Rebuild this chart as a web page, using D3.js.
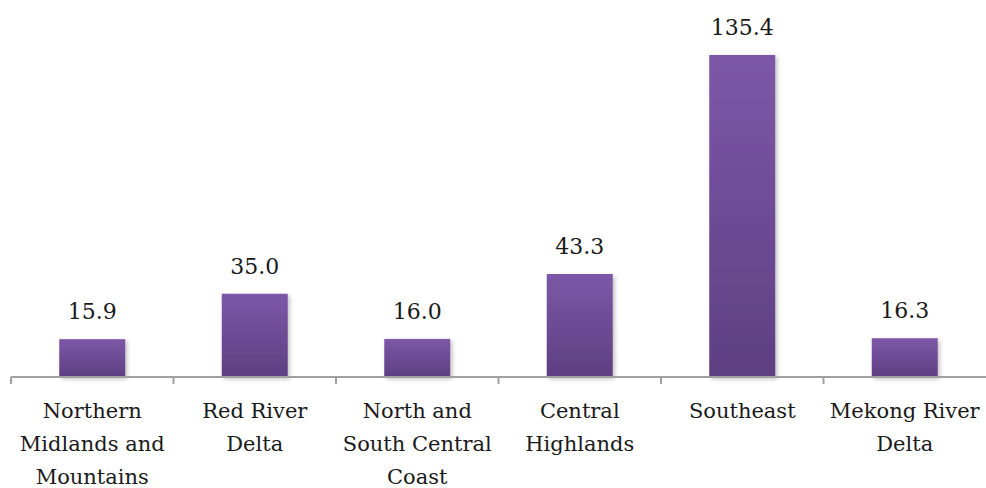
<!DOCTYPE html>
<html>
<head>
<meta charset="utf-8">
<script src="https://cdn.jsdelivr.net/npm/d3@7"></script>
<style>
  html, body { margin: 0; padding: 0; background: #fff; }
  svg { display: block; }
</style>
</head>
<body>
<svg id="chart" width="986" height="488"></svg>
<script>
const categories = [
  ["Northern", "Midlands and", "Mountains"],
  ["Red River", "Delta"],
  ["North and", "South Central", "Coast"],
  ["Central", "Highlands"],
  ["Southeast"],
  ["Mekong River", "Delta"]
];
const categoryKeys = ["Northern Midlands and Mountains", "Red River Delta", "North and South Central Coast", "Central Highlands", "Southeast", "Mekong River Delta"];
const values = [15.9, 35.0, 16.0, 43.3, 135.4, 16.3];
const valueLabels = ["15.9", "35.0", "16.0", "43.3", "135.4", "16.3"];

const FONT = "'DejaVu Serif', 'Liberation Serif', serif";
const svg = d3.select("#chart");
const left = 11, right = 986, axisY = 377;

const x = d3.scaleBand().domain(categoryKeys).range([left, right]).padding(0);
const y = d3.scaleLinear().domain([0, 140]).range([axisY, 44]);
const barW = x.bandwidth() * 0.406;

const defs = svg.append("defs");
const grad = defs.append("linearGradient").attr("id", "barGrad")
  .attr("x1", 0).attr("y1", 0).attr("x2", 0).attr("y2", 1);
grad.append("stop").attr("offset", "0%").attr("stop-color", "#7D57A8");
grad.append("stop").attr("offset", "100%").attr("stop-color", "#5E3F81");
const f = defs.append("filter").attr("id", "shadow")
  .attr("x", "-20%").attr("y", "-10%").attr("width", "140%").attr("height", "130%");
f.append("feDropShadow").attr("dx", 2).attr("dy", 2).attr("stdDeviation", 2)
  .attr("flood-color", "#000").attr("flood-opacity", 0.25);

svg.append("g").selectAll("rect").data(values).join("rect")
  .attr("x", (d, i) => x(categoryKeys[i]) + (x.bandwidth() - barW) / 2)
  .attr("y", d => y(d))
  .attr("width", barW)
  .attr("height", d => y(0) - y(d))
  .attr("fill", "url(#barGrad)")
  .attr("filter", "url(#shadow)");

const axisG = svg.append("g");
axisG.append("line")
  .attr("x1", left).attr("x2", right)
  .attr("y1", axisY).attr("y2", axisY)
  .attr("stroke", "#A0A0A0").attr("stroke-width", 2);
const tickPos = categoryKeys.map(k => x(k));
axisG.selectAll("line.tick").data(tickPos).join("line")
  .attr("class", "tick")
  .attr("x1", d => d).attr("x2", d => d)
  .attr("y1", axisY).attr("y2", axisY + 7)
  .attr("stroke", "#A0A0A0").attr("stroke-width", 2);

svg.append("g").selectAll("text").data(values).join("text")
  .attr("x", (d, i) => x(categoryKeys[i]) + x.bandwidth() / 2)
  .attr("y", d => y(d) - 20)
  .attr("text-anchor", "middle")
  .style("font-family", FONT)
  .attr("fill", "#1a1a1a")
  .attr("font-size", 22)
  .text((d, i) => valueLabels[i]);

const catG = svg.append("g").selectAll("text").data(categories).join("text")
  .attr("x", (d, i) => x(categoryKeys[i]) + x.bandwidth() / 2)
  .attr("y", 418)
  .attr("text-anchor", "middle")
  .style("font-family", FONT)
  .attr("fill", "#1a1a1a")
  .attr("font-size", 21);
catG.selectAll("tspan").data(d => d).join("tspan")
  .attr("x", function() { return d3.select(this.parentNode).attr("x"); })
  .attr("dy", (d, i) => i === 0 ? 0 : 33)
  .text(d => d);
</script>
</body>
</html>
